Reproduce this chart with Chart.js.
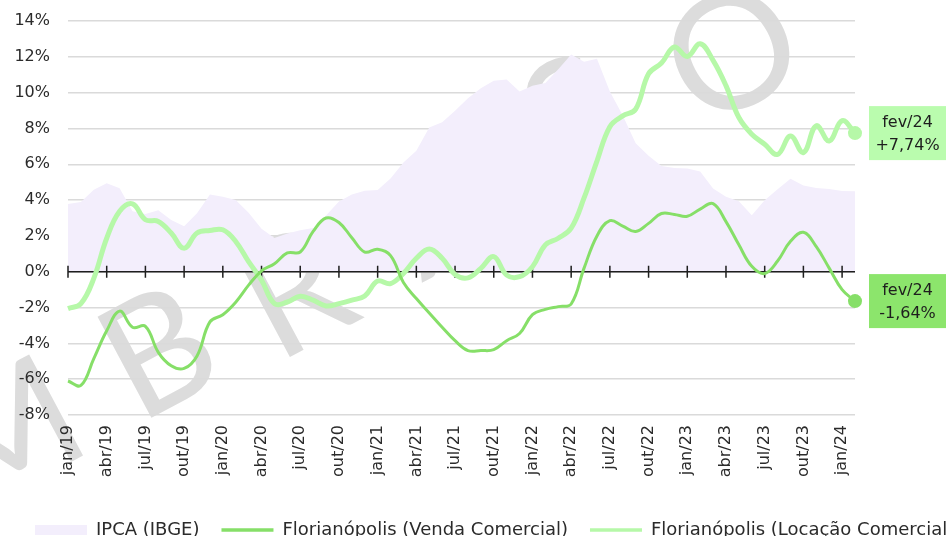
<!DOCTYPE html>
<html>
<head>
<meta charset="utf-8">
<script src="https://cdn.jsdelivr.net/npm/chart.js@4.4.1/dist/chart.umd.min.js"></script>
<style>
  html, body { margin: 0; padding: 0; background: #fff; overflow: hidden; }
  #wrap { width: 948px; height: 536px; overflow: hidden; position: relative; }
  canvas { display: block; }
</style>
</head>
<body>
<div id="wrap"><canvas id="chart" width="1010" height="549"></canvas></div>
<script>
const months = [
  'jan/19','fev/19','mar/19','abr/19','mai/19','jun/19','jul/19','ago/19','set/19','out/19','nov/19','dez/19',
  'jan/20','fev/20','mar/20','abr/20','mai/20','jun/20','jul/20','ago/20','set/20','out/20','nov/20','dez/20',
  'jan/21','fev/21','mar/21','abr/21','mai/21','jun/21','jul/21','ago/21','set/21','out/21','nov/21','dez/21',
  'jan/22','fev/22','mar/22','abr/22','mai/22','jun/22','jul/22','ago/22','set/22','out/22','nov/22','dez/22',
  'jan/23','fev/23','mar/23','abr/23','mai/23','jun/23','jul/23','ago/23','set/23','out/23','nov/23','dez/23',
  'jan/24','fev/24'
];

// IPCA 12 meses (%)
const ipca = [
  3.78, 3.89, 4.58, 4.94, 4.66, 3.37, 3.22, 3.43, 2.89, 2.54, 3.27, 4.31,
  4.19, 4.01, 3.30, 2.40, 1.88, 2.13, 2.31, 2.44, 3.14, 3.92, 4.31, 4.52,
  4.56, 5.20, 6.10, 6.76, 8.06, 8.35, 8.99, 9.68, 10.25, 10.67, 10.74, 10.06,
  10.38, 10.54, 11.30, 12.13, 11.73, 11.89, 10.07, 8.73, 7.17, 6.47, 5.90, 5.79,
  5.77, 5.60, 4.65, 4.18, 3.94, 3.16, 3.99, 4.61, 5.19, 4.82, 4.68, 4.62,
  4.51, 4.50
];

const vendaComercial = [
  -6.1, -6.35, -4.85, -3.3, -2.2, -3.1, -3.05, -4.5, -5.25, -5.4, -4.7, -2.8,
  -2.4, -1.7, -0.75, 0.05, 0.45, 1.05, 1.1, 2.25, 3.0, 2.75, 1.9, 1.1,
  1.25, 0.9, -0.6, -1.5, -2.3, -3.1, -3.85, -4.4, -4.4, -4.35, -3.85, -3.45,
  -2.4, -2.1, -1.95, -1.8, 0.2, 2.0, 2.85, 2.55, 2.25, 2.7, 3.25, 3.2,
  3.1, 3.5, 3.8, 2.8, 1.5, 0.3, -0.1, 0.6, 1.7, 2.2, 1.4, 0.2,
  -1.0, -1.64
];

const locacaoComercial = [
  -2.06, -1.78, -0.37, 1.87, 3.37, 3.79, 2.9, 2.81, 2.16, 1.31, 2.16, 2.3,
  2.34, 1.69, 0.56, -0.47, -1.78, -1.69, -1.37, -1.59, -1.91, -1.78, -1.59, -1.35,
  -0.52, -0.66, -0.09, 0.75, 1.27, 0.75, -0.15, -0.34, 0.19, 0.84, -0.19, -0.28,
  0.28, 1.5, 1.87, 2.43, 4.12, 6.18, 8.1, 8.7, 9.08, 11.05, 11.65, 12.55,
  12.02, 12.73, 11.8, 10.39, 8.61, 7.68, 7.12, 6.55, 7.58, 6.65, 8.15, 7.3,
  8.43, 7.74
];

const lastIdx = months.length - 1;
const endDot = months.map((m, i) => i === lastIdx ? 7 : 0);

const colIpca = '#f3eefc';
const colVenda = '#86df68';
const colLocacao = '#b6f8a8';

Chart.defaults.font.family = "'DejaVu Sans', sans-serif";
Chart.defaults.font.size = 16;
Chart.defaults.color = '#2b2b2b';

// marca d'agua cinza, por baixo de tudo
const watermark = {
  id: 'watermark',
  beforeDraw(chart) {
    const { ctx } = chart;
    ctx.save();
    ctx.fillStyle = '#dcdcdc';
    ctx.font = "400 160px Lato, 'DejaVu Sans'";
    ctx.textAlign = 'center';
    ctx.textBaseline = 'middle';
    [['M', 6, 438], ['B', 160, 355], ['R', 297, 295], ['A', 445, 212], ['S', 575, 120], ['O', 734, 56]].forEach(([ch, x, y]) => {
      ctx.save();
      ctx.translate(x, y);
      ctx.rotate(-28 * Math.PI / 180);
      ctx.fillText(ch, 0, 0);
      ctx.restore();
    });
    ctx.restore();
  }
};

// linha do zero com marcas a cada 3 meses
const zeroAxis = {
  id: 'zeroAxis',
  afterDatasetDraw(chart, args) {
    if (args.index !== 0) return;
    const { ctx, chartArea, scales: { x, y } } = chart;
    const y0 = y.getPixelForValue(0);
    ctx.save();
    ctx.strokeStyle = '#1e1e1e';
    ctx.lineWidth = 1.5;
    ctx.beginPath();
    ctx.moveTo(chartArea.left, y0);
    ctx.lineTo(chartArea.right, y0);
    for (let i = 0; i < months.length; i += 3) {
      const px = x.getPixelForValue(i);
      ctx.moveTo(px, y0 - 6);
      ctx.lineTo(px, y0 + 6);
    }
    ctx.stroke();
    ctx.restore();
  }
};

// caixas com o ultimo valor
const endLabels = {
  id: 'endLabels',
  afterDatasetsDraw(chart) {
    const { ctx } = chart;
    [[2, locacaoComercial, '#bafcae'], [1, vendaComercial, '#8ce56c']].forEach(([di, data, color]) => {
      const pt = chart.getDatasetMeta(di).data[lastIdx];
      const v = data[lastIdx];
      const txt = (v > 0 ? '+' : '') + v.toFixed(2).replace('.', ',') + '%';
      const bx = pt.x + 14;
      ctx.save();
      ctx.fillStyle = color;
      ctx.fillRect(bx, pt.y - 27, 77, 54);
      ctx.fillStyle = '#1e1e1e';
      ctx.font = "16px 'DejaVu Sans'";
      ctx.textAlign = 'center';
      ctx.textBaseline = 'middle';
      ctx.fillText(months[lastIdx], bx + 38.5, pt.y - 10);
      ctx.fillText(txt, bx + 38.5, pt.y + 13);
      ctx.restore();
    });
  }
};

new Chart(document.getElementById('chart'), {
  type: 'line',
  data: {
    labels: months,
    datasets: [
      {
        label: 'IPCA (IBGE)',
        data: ipca,
        fill: 'origin',
        backgroundColor: colIpca,
        borderWidth: 0,
        pointRadius: 0,
        tension: 0,
        order: 3
      },
      {
        label: 'Florianópolis (Venda Comercial)',
        data: vendaComercial,
        borderColor: colVenda,
        backgroundColor: colVenda,
        borderWidth: 3,
        pointRadius: endDot,
        pointBorderWidth: 0,
        pointBackgroundColor: colVenda,
        tension: 0.4,
        fill: false,
        clip: 12,
        order: 1
      },
      {
        label: 'Florianópolis (Locação Comercial)',
        data: locacaoComercial,
        borderColor: colLocacao,
        backgroundColor: colLocacao,
        borderWidth: 5,
        pointRadius: endDot,
        pointBorderWidth: 0,
        pointBackgroundColor: colLocacao,
        tension: 0.4,
        fill: false,
        clip: 12,
        order: 2
      }
    ]
  },
  options: {
    responsive: false,
    animation: false,
    devicePixelRatio: 1,
    layout: { padding: { left: 13, top: 21, right: 0, bottom: 0 } },
    plugins: {
      tooltip: { enabled: false },
      legend: {
        position: 'bottom',
        align: 'start',
        labels: {
          usePointStyle: true,
          pointStyleWidth: 52,
          boxHeight: 10,
          padding: 22,
          color: '#2b2b2b',
          font: { size: 18 },
          sort: (a, b) => a.datasetIndex - b.datasetIndex,
          generateLabels(chart) {
            const items = Chart.defaults.plugins.legend.labels.generateLabels(chart);
            items.forEach(it => {
              if (it.datasetIndex === 0) {
                it.pointStyle = 'rect';
                it.fillStyle = colIpca;
                it.strokeStyle = 'rgba(0,0,0,0)';
                it.lineWidth = 0;
              } else {
                it.pointStyle = 'line';
                it.lineWidth = 3.5;
              }
            });
            return items;
          }
        }
      }
    },
    scales: {
      x: {
        grid: { display: false, drawTicks: false },
        border: { display: false },
        ticks: {
          autoSkip: false,
          maxRotation: 90,
          minRotation: 90,
          padding: 10,
          color: '#2b2b2b',
          callback: (v, i) => (i % 3 === 0 && i < lastIdx ? months[i] : null)
        },
        afterFit(s) { s.height = 84; }
      },
      y: {
        min: -8,
        max: 14,
        grid: { color: '#dadada', lineWidth: 1.5, drawTicks: false },
        border: { display: false },
        ticks: { stepSize: 2, padding: 18, color: '#2b2b2b', callback: v => v + '%' },
        afterFit(s) { s.width = 55; s.paddingTop = 0; s.paddingBottom = 0; }
      },
      spacer: {
        position: 'right',
        grid: { display: false, drawTicks: false },
        border: { display: false },
        ticks: { display: false },
        afterFit(s) { s.width = 155; }
      }
    }
  },
  plugins: [watermark, zeroAxis, endLabels]
});
</script>
</body>
</html>
